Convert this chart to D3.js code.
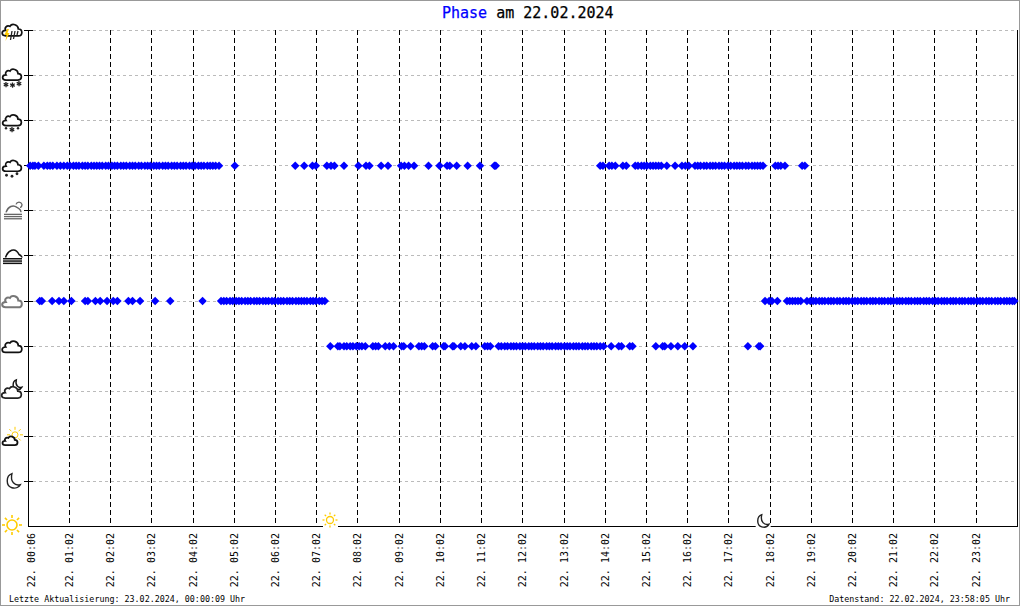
<!DOCTYPE html>
<html><head><meta charset="utf-8">
<script src="https://cdn.jsdelivr.net/npm/d3@7"></script>
<style>html,body{margin:0;padding:0;background:#fff}svg{display:block}text{font-family:"DejaVu Sans Mono",monospace}</style>
</head><body><div id="chart"></div>
<script>
// observation times, minutes since midnight, by weather phase
const rainTimes=[5,9,12,17,25,30,34,38,44,49,54,59,63,68,72,76,81,85,89,94,98,102,106,110,115,119,124,128,132,137,141,145,150,154,158,163,167,172,176,180,185,189,193,198,202,206,211,215,219,224,228,232,237,241,245,250,254,258,263,267,271,275,280,303,
391,404,416,421,437,443,448,462,483,494,499,516,526,545,550,556,564,585,601,612,616,626,642,660,681,683,
835,839,848,852,857,868,873,886,890,895,899,903,908,912,916,920,924,932,944,954,959,964,973,977,981,986,990,995,999,1003,1008,1012,1016,1021,1025,1030,1034,1038,1042,1047,1051,1056,1060,1064,1068,1072,1090,1094,1098,1104,1129,1133];
const overcastTimes=[19,22,37,47,54,65,85,89,100,107,117,126,132,148,154,165,187,209,256,
283,287,291,296,300,305,309,313,318,322,326,331,335,339,344,348,352,357,361,366,370,374,379,383,387,392,396,400,404,408,413,417,421,426,430,434,
1075,1081,1085,1093,1107,1111,1115,1119,1123,1127,
1136,1141,1145,1149,1154,1158,1162,1167,1171,1175,1180,1184,1189,1193,1197,1202,1206,1210,1215,1219,1223,1228,1232,1236,1241,1245,1249,1254,1258,1262,1267,1271,1275,1280,1284,1288,1293,1297,1301,1306,1310,1314,1319,1323,1327,1332,1336,1340,1345,1349,1353,1358,1362,1366,1371,1375,1379,1384,1388,1392,1397,1401,1405,1410,1414,1418,1423,1427,1431,1435,1438];
const cloudyTimes=[442,453,456,462,466,471,475,480,484,488,493,504,508,512,522,528,534,546,549,559,571,575,579,591,595,607,609,620,622,632,638,648,654,667,671,675,
687,691,696,700,705,709,713,718,722,726,731,735,739,744,748,752,757,761,765,770,774,778,783,787,791,796,800,804,809,813,817,822,826,830,835,840,
851,862,866,878,882,916,926,929,938,948,958,970,1050,1066,1068];
const seriesTimes=[{level:8,times:rainTimes},{level:5,times:overcastTimes},{level:4,times:cloudyTimes}];
const tickMinutes=[6,62,122,182,242,302,362,422,482,542,602,662,722,782,842,902,962,1022,1082,1142,1202,1262,1322,1382];
const sunriseMinute=442, sunsetMinute=1072;
const titleLead="Phase", titleRest=" am 22.02.2024";
const updatedText="Letzte Aktualisierung: 23.02.2024, 00:00:09 Uhr";
const dataText="Datenstand: 22.02.2024, 23:58:05 Uhr";
const levels=[0,1,2,3,4,5,6,7,8,9,10,11];

const W=1020,H=606;
const x=d3.scaleLinear().domain([2,1442]).range([27.8,1016.8]);
const y=d3.scaleLinear().domain([0,11]).range([526,30]);
const svg=d3.select("#chart").append("svg").attr("width",W).attr("height",H);
const px=v=>Math.round(v)+.5;

svg.append("rect").attr("x",.5).attr("y",.5).attr("width",W-1).attr("height",H-1).attr("fill","#fff").attr("stroke","#999");

// grid
svg.append("g").selectAll("line").data(levels.filter(d=>d>0)).join("line")
 .attr("x1",33).attr("x2",1017).attr("y1",d=>px(y(d))).attr("y2",d=>px(y(d)))
 .attr("stroke","#bbb").attr("stroke-dasharray","3,3").attr("shape-rendering","crispEdges");
svg.append("g").selectAll("line").data(tickMinutes.slice(1)).join("line")
 .attr("x1",d=>px(x(d))).attr("x2",d=>px(x(d))).attr("y1",30).attr("y2",526)
 .attr("stroke","#000").attr("stroke-dasharray","5,3").attr("shape-rendering","crispEdges");

// axes frame
const frame=svg.append("g").attr("stroke","#000").attr("shape-rendering","crispEdges");
frame.append("line").attr("x1",28.5).attr("x2",28.5).attr("y1",30).attr("y2",527);
frame.append("line").attr("x1",1017.5).attr("x2",1017.5).attr("y1",30).attr("y2",527);
frame.append("line").attr("x1",28).attr("x2",1018).attr("y1",526.5).attr("y2",526.5);
frame.selectAll("line.t").data(levels.filter(d=>d>0)).join("line").attr("class","t")
 .attr("x1",24).attr("x2",33).attr("y1",d=>px(y(d))).attr("y2",d=>px(y(d)));

// bottom axis labels
const axis=d3.axisBottom(x).tickValues(tickMinutes).tickSize(0).tickFormat(d=>{
  const h=Math.floor(d/60),m=d%60;return "22. "+String(h).padStart(2,"0")+":"+String(m).padStart(2,"0");});
const ag=svg.append("g").attr("transform","translate(0,526)").call(axis);
ag.select(".domain").remove();
ag.selectAll("text").attr("transform","rotate(-90)").attr("text-anchor","end")
  .attr("x",-7).attr("y",0).attr("dy","0.35em").attr("font-size",10).attr("fill","#000")
  .attr("font-family",'"DejaVu Sans Mono",monospace');

// markers
const diamond={draw(c,s){const r=Math.sqrt(s);c.moveTo(0,-r);c.lineTo(r,0);c.lineTo(0,r);c.lineTo(-r,0);c.closePath();}};
const sym=d3.symbol().type(diamond).size(18);
seriesTimes.forEach(s=>{
 svg.append("g").selectAll("path").data(s.times).join("path")
  .attr("d",sym).attr("fill","#0000ff")
  .attr("transform",d=>`translate(${x(d)+.3},${y(s.level)+.5})`);
});

// icons
const C="M-6,6 H6 C10.5,6 10.5,-.5 6,-.5 C6,-4.5 0,-6.5 -2,-3 C-5,-4.5 -7.5,-1.5 -6,.8 C-10.5,.8 -10.5,6 -6,6Z";
function cloud(g,dx,dy,col,k=1,sw=1.7){g.append("path").attr("d",C).attr("transform",`translate(${dx},${dy}) scale(${k})`).attr("fill","#fff").attr("stroke",col).attr("stroke-width",sw/k);}
function sun(g,cx,cy,r,len,sw){const n=8;
 g.append("circle").attr("cx",cx).attr("cy",cy).attr("r",r).attr("fill","#fff").attr("stroke","#fc0").attr("stroke-width",sw);
 for(let i=0;i<n;i++){const a=i/n*2*Math.PI;g.append("line").attr("x1",cx+Math.cos(a)*(r+2)).attr("y1",cy+Math.sin(a)*(r+2)).attr("x2",cx+Math.cos(a)*(r+2+len)).attr("y2",cy+Math.sin(a)*(r+2+len)).attr("stroke","#fc0").attr("stroke-width",sw);}}
function moon(g,cx,cy,k,col="#222"){g.append("path").attr("transform",`translate(${cx},${cy}) scale(${k})`).attr("d","M-1,-7 C-7,-5 -7,5 -1,6.5 C3,7.5 6,5.5 7,3.5 C2,5 -3,1 -1,-7Z").attr("fill","#fff").attr("stroke",col).attr("stroke-width",1.4/k);}
function dots(g,pts,r=1.4,col="#222"){pts.forEach(p=>g.append("circle").attr("cx",p[0]).attr("cy",p[1]).attr("r",r).attr("fill",col));}
function flakes(g,pts,r){pts.forEach(p=>{for(let i=0;i<3;i++){const a=i*Math.PI/3+.5;g.append("line").attr("x1",p[0]-Math.cos(a)*r).attr("y1",p[1]-Math.sin(a)*r).attr("x2",p[0]+Math.cos(a)*r).attr("y2",p[1]+Math.sin(a)*r).attr("stroke","#222").attr("stroke-width",1.3);}});}
function hlines(g,ys,x1,x2,col,sw=1.3){ys.forEach(v=>g.append("line").attr("x1",x1).attr("x2",x2).attr("y1",v).attr("y2",v).attr("stroke",col).attr("stroke-width",sw));}
const icon=l=>svg.append("g").attr("transform",`translate(0,${y(l)})`);

let g=icon(11);cloud(g,12,-.5,"#111",1.05);
g.append("path").attr("d","M7,-1 L4.5,5 L6.5,5 L5.5,11 L9.5,3 L7.5,3 L9,-1Z").attr("fill","#fc0");
[[12,1,10.5,10],[15,1,13.5,9],[18,1,17,5]].forEach(a=>g.append("line").attr("x1",a[0]).attr("y1",a[1]).attr("x2",a[2]).attr("y2",a[3]).attr("stroke","#222").attr("stroke-width",1.3));
g=icon(10);cloud(g,12,-1,"#111");flakes(g,[[6,9.5],[12.5,10],[19,8.5]],2.6);
g=icon(9);cloud(g,12,-.5,"#111");dots(g,[[6,8],[18,8]],1.2);flakes(g,[[12,9.5]],2.6);
g=icon(8);cloud(g,12,0,"#111");dots(g,[[6.5,10],[12,11],[17,8.5]],1.4);
g=icon(7);g.append("path").attr("d","M6,2 C8,-4 13,-6 17,-3 C19,-2 21,0 21,2").attr("fill","none").attr("stroke","#666").attr("stroke-width",1.4);
g.append("path").attr("d","M16,-6 C17,-9 21,-9 22,-6 C22,-4 21,-3 20,-3").attr("fill","none").attr("stroke","#666").attr("stroke-width",1.3);
hlines(g,[4,6.2,8.4],4,22,"#666");
g=icon(6);g.append("path").attr("d","M5.5,2 C8,-5 15,-9 19,-1 C21,0 22,1 22,2").attr("fill","none").attr("stroke","#111").attr("stroke-width",1.5);
hlines(g,[3.3,5.6,7.9],3,22,"#111",1.5);
g=icon(5);cloud(g,12,.5,"#777",1.05,2);
g=icon(4);cloud(g,12,.5,"#111",1.05);
g=icon(3);moon(g,17,-6,.7,"#111");cloud(g,11.5,1,"#222",1.05);
g=icon(2);sun(g,15,-1,3,3,1);cloud(g,10,4.5,"#111",.8,1.8);
g=icon(1);moon(g,13,0,1.05,"#222");
g=icon(0);sun(g,12,-1,5,3,1.6);

// sunrise & sunset
svg.append("rect").attr("x",x(sunriseMinute)-7).attr("y",524).attr("width",15).attr("height",5).attr("fill","#fff");
sun(svg.append("g"),x(sunriseMinute),520,3.5,2,1.3);
svg.append("rect").attr("x",x(sunsetMinute)-7).attr("y",524).attr("width",15).attr("height",5).attr("fill","#fff");
moon(svg.append("g"),x(sunsetMinute),521,.9);

// texts
const t=svg.append("text").attr("x",442).attr("y",18).attr("font-size",15).attr("xml:space","preserve").attr("stroke-width",.25);
t.append("tspan").attr("fill","#0000ff").attr("stroke","#0000ff").text(titleLead);
t.append("tspan").attr("fill","#000").attr("stroke","#000").text(titleRest);
svg.append("text").attr("x",9).attr("y",602).attr("font-size",8.35).attr("fill","#000").text(updatedText);
svg.append("text").attr("x",1010).attr("y",602).attr("text-anchor","end").attr("font-size",8.35).attr("fill","#000").text(dataText);
</script></body></html>
